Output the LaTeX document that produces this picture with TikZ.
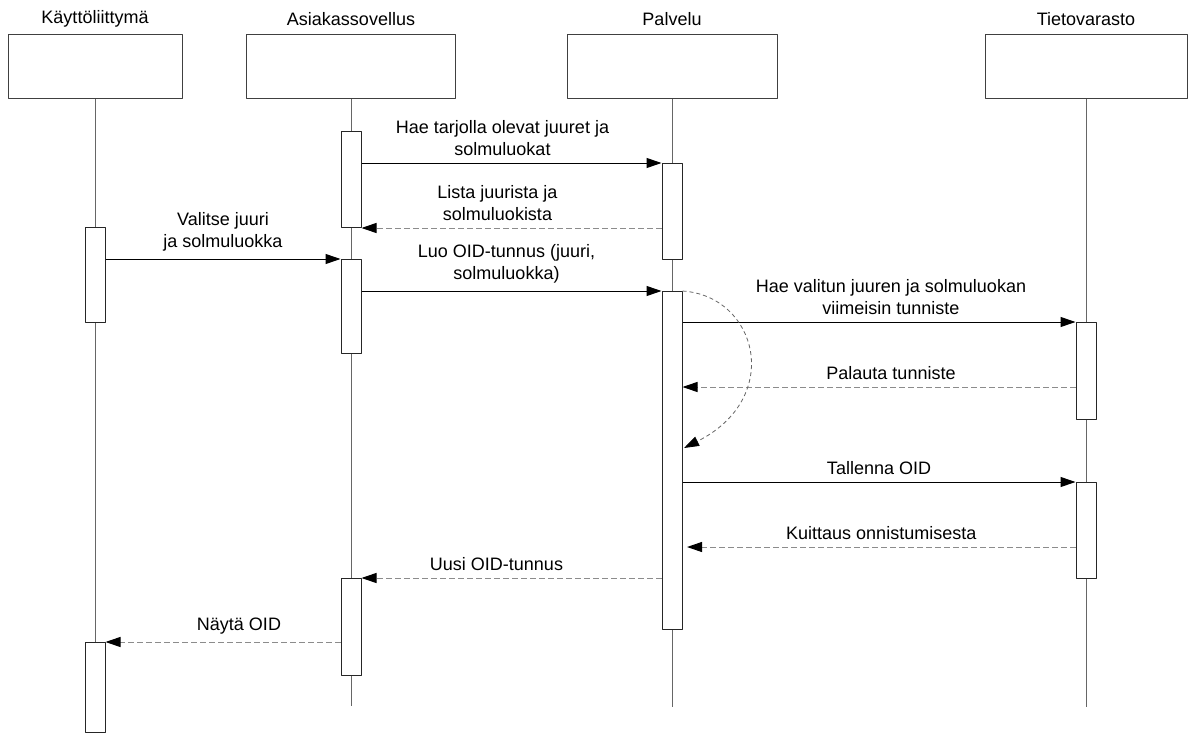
\documentclass[tikz,border=0pt]{standalone}
\usepackage{fontspec}
\setmainfont{Liberation Sans}
\usetikzlibrary{arrows.meta}

\begin{document}
\begin{tikzpicture}[x=1pt, y=-1pt, font=\fontsize{18}{22}\selectfont, line join=round,
		>={Triangle[length=15pt, width=10pt, color=black]},
		head/.style={draw=black!75, line width=1pt, minimum height=64pt, anchor=north, inner sep=0pt},
		act/.style={draw=black!85, fill=white, line width=1pt, minimum width=20pt, anchor=north, inner sep=0pt},
		life/.style={draw=black!60, line width=1pt},
		call/.style={->, draw=black, line width=1pt},
		ret/.style={->, draw=black!45, line width=1pt, dash pattern=on 6pt off 3pt},
		msg/.style={midway, above=4pt, align=center, inner sep=3pt}]
	\useasboundingbox (0,0) rectangle (1188,733);

	% lifeline heads
	\node[head, minimum width=174pt] (ui) at (95,34) {};
	\node[head, minimum width=209pt] (cl) at (351,34) {};
	\node[head, minimum width=210pt] (sv) at (672,34) {};
	\node[head, minimum width=202pt] (st) at (1086,34) {};
	\node (ui-lbl) at (95,19) {Käyttöliittymä};
	\node (cl-lbl) at (351,19) {Asiakassovellus};
	\node (sv-lbl) at (672,19) {Palvelu};
	\node (st-lbl) at (1086,19) {Tietovarasto};

	\coordinate (ui-end) at (95,732);
	\coordinate (cl-end) at (351,706);
	\coordinate (sv-end) at (672,707);
	\coordinate (st-end) at (1086,707);
	\draw[life] (ui.south) -- (ui-end);
	\draw[life] (cl.south) -- (cl-end);
	\draw[life] (sv.south) -- (sv-end);
	\draw[life] (st.south) -- (st-end);

	% activations
	\node[act, minimum height=95pt] (ua) at (95,227) {};
	\node[act, minimum height=90pt] (ub) at (95,642) {};
	\node[act, minimum height=96pt] (ca) at (351,131) {};
	\node[act, minimum height=94pt] (cb) at (351,259) {};
	\node[act, minimum height=97pt] (cc) at (351,578) {};
	\node[act, minimum height=96pt] (pa) at (672,163) {};
	\node[act, minimum height=338pt] (pb) at (672,291) {};
	\node[act, minimum height=97pt] (sa) at (1086,322) {};
	\node[act, minimum height=96pt] (sb) at (1086,482) {};

	% messages
	\draw[call] (ca.east |- pa.north) -- (pa.north west) node[msg, xshift=-9pt] {Hae tarjolla olevat juuret ja\\solmuluokat};
	\draw[ret] (pa.west |- ca.south) -- (ca.south east) node[msg, xshift=-14pt] {Lista juurista ja\\solmuluokista};
	\draw[call] (ua.east |- cb.north) -- (cb.north west) node[msg] {Valitse juuri\\ja solmuluokka};
	\draw[call] (cb.east |- pb.north) -- (pb.north west) node[msg, xshift=-5pt] {Luo OID-tunnus (juuri,\\solmuluokka)};
	\draw[call] (pb.east |- sa.north) -- (sa.north west) node[msg, xshift=12pt] {Hae valitun juuren ja solmuluokan\\viimeisin tunniste};
	\draw[ret] (sa.west |- 0,387) -- (pb.east |- 0,387) node[msg, xshift=12pt] {Palauta tunniste};

	\coordinate (loop-end) at (684,448);
	\draw[->, draw=black!60, line width=0.8pt, dash pattern=on 4pt off 3pt] (pb.north east) .. controls +(75,5) and +(100,-50) .. (loop-end);

	\draw[call] (pb.east |- sb.north) -- (sb.north west) node[msg] {Tallenna OID};
	\coordinate (ack-end) at (687,547);
	\draw[ret] (sb.west |- ack-end) -- (ack-end) node[msg] {Kuittaus onnistumisesta};
	\draw[ret] (pb.west |- cc.north) -- (cc.north east) node[msg, xshift=-15pt] {Uusi OID-tunnus};
	\draw[ret] (cc.west |- ub.north) -- (ub.north east) node[msg, xshift=16pt] {Näytä OID};
\end{tikzpicture}
\end{document}
